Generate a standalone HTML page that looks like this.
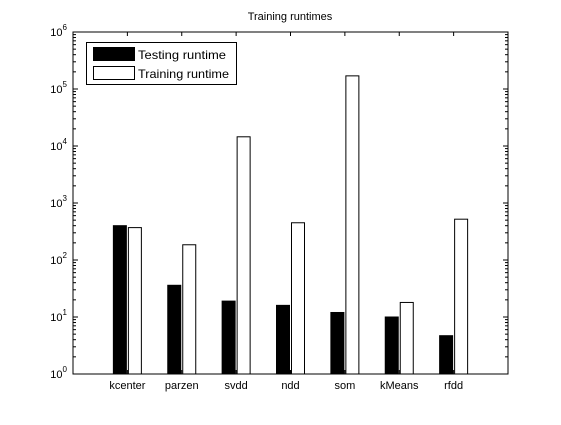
<!DOCTYPE html>
<html><head><meta charset="utf-8"><style>
body{margin:0;background:#fff;font-family:"Liberation Sans",sans-serif}
svg text{font-family:"Liberation Sans",sans-serif;fill:#000}
</style></head><body>
<svg id="c" width="561" height="420" xmlns="http://www.w3.org/2000/svg">
<rect width="561" height="420" fill="#fff"/>
<text x="290" y="20" font-size="11" text-anchor="middle">Training runtimes</text>
<g id="g"></g>
</svg>
<script>
const categories=["kcenter","parzen","svdd","ndd","som","kMeans","rfdd"];
const testing=[400,36,19,16,12,10,4.7];
const training=[370,185,14500,450,170000,18,520];
const yExps=[0,1,2,3,4,5,6];
const L=73,R=508,T=32,B=374;
const NS="http://www.w3.org/2000/svg";
const g=document.getElementById('g');
function xs(i){return L+(i+1)*(R-L)/8;}
function ys(v){return B-(Math.log10(v)-0)/6*(B-T);}
function el(t,a){const e=document.createElementNS(NS,t);for(const k in a)e.setAttribute(k,a[k]);g.appendChild(e);return e;}
const bw=13;
categories.forEach((c,i)=>{
  const x=xs(i);
  const b1=el('rect',{x:x-14,y:ys(testing[i]),width:bw,height:B-ys(testing[i]),fill:'#000',stroke:'#000'});
  
  
  const b2=el('rect',{x:x+1,y:ys(training[i]),width:bw,height:B-ys(training[i]),fill:'#fff',stroke:'#000'});
  
  
  el('line',{x1:x,x2:x,y1:B,y2:B-4,stroke:'#000'});
  el('line',{x1:x,x2:x,y1:T,y2:T+4,stroke:'#000'});
  const t=el('text',{x:x,y:B+15,'font-size':11,'text-anchor':'middle'});t.textContent=c;
  
  
});
yExps.forEach(e=>{
  const y=ys(Math.pow(10,e));
  el('line',{x1:L,x2:L+5,y1:y,y2:y,stroke:'#000'});
  el('line',{x1:R,x2:R-5,y1:y,y2:y,stroke:'#000'});
  if(e<6)for(let m=2;m<10;m++){const yy=ys(m*Math.pow(10,e));
    el('line',{x1:L,x2:L+3,y1:yy,y2:yy,stroke:'#000'});el('line',{x1:R,x2:R-3,y1:yy,y2:yy,stroke:'#000'});}
  const t=el('text',{x:L-6,y:y+4,'font-size':11,'text-anchor':'end'});
  t.innerHTML='10<tspan dy="-6" font-size="8">'+e+'</tspan>';
  
  
});
const ax=el('rect',{x:L,y:T,width:R-L,height:B-T,fill:'none',stroke:'#000'});


const lg=el('rect',{x:86.5,y:42.5,width:150,height:42,fill:'#fff',stroke:'#000'});


el('rect',{x:93.5,y:47.5,width:41,height:13,fill:'#000',stroke:'#000'});
el('rect',{x:93.5,y:66.5,width:41,height:13,fill:'#fff',stroke:'#000'});
const t1=el('text',{x:138,y:59,'font-size':12,textLength:88,lengthAdjust:'spacingAndGlyphs'});t1.textContent='Testing runtime';


const t2=el('text',{x:138,y:78,'font-size':12,textLength:91,lengthAdjust:'spacingAndGlyphs'});t2.textContent='Training runtime';


</script>
</body></html>
